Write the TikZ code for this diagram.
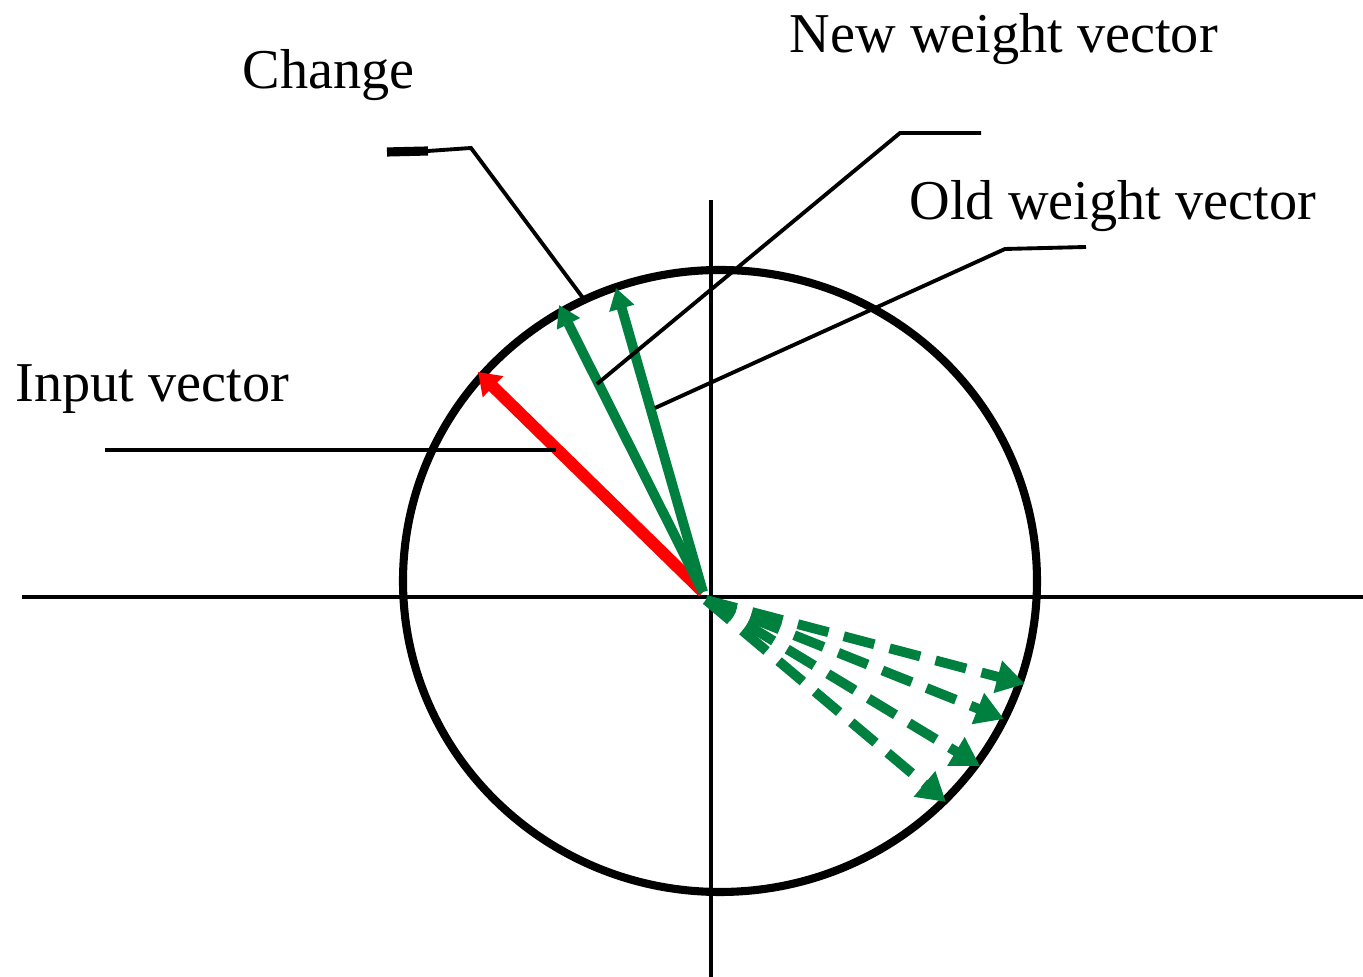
\documentclass[tikz,border=0pt]{standalone}
\usepackage{fontspec}
\setmainfont{Liberation Serif}
\usetikzlibrary{arrows.meta}
\definecolor{wgreen}{RGB}{0,128,62}
\tikzset{
  lbl/.style={inner sep=0pt, font=\fontsize{16}{19}\selectfont},
  axis/.style={line width=1.3pt},
  leader/.style={line width=1.1pt},
  invec/.style={red, line width=3.4pt, -{Triangle[length=6pt,width=8pt]}},
  wvec/.style={wgreen, line width=2.8pt, -{Triangle[length=6pt,width=7pt]}},
  wdash/.style={wgreen, line width=2.8pt, dash pattern=on 9pt off 4.5pt,
    -{Triangle[length=8pt,width=9pt]}},
}
\begin{document}
\begin{tikzpicture}[x=0.01cm,y=-0.01cm]
	\useasboundingbox (0,0) rectangle (1363,977);
	% axes and circle
	\draw[axis] (22,597) -- (1363,597);
	\draw[axis] (711,200) -- (711,977);
	\draw[line width=2.3pt] (720,581) ellipse [x radius=317, y radius=311];
	\coordinate (O) at (703,592);
	% input vector and weight vectors
	\coordinate (in) at (478,372);
	\coordinate (w1) at (559,305);
	\coordinate (w2) at (616,288);
	\draw[invec] (O) -- (in);
	\draw[wvec] (O) -- (w1);
	\draw[wvec] (O) -- (w2);
	\coordinate (O2) at (706,600);
	\coordinate (d1) at (1025,684);
	\coordinate (d2) at (1004,719);
	\coordinate (d3) at (980,766);
	\coordinate (d4) at (946,802);
	\draw[wdash] (O2) -- (d1);
	\draw[wdash] (O2) -- (d2);
	\draw[wdash] (O2) -- (d3);
	\draw[wdash] (O2) -- (d4);
	% labels
	\node[lbl, anchor=base west] (change) at (242,89) {Change};
	\node[lbl, anchor=base west] (newlbl) at (789,53) {New weight vector};
	\node[lbl, anchor=base west] (oldlbl) at (909,220) {Old weight vector};
	\node[lbl, anchor=base west] (inlbl) at (15,402) {Input vector};
	% leader lines
	\coordinate (c0) at (387,152);
	\coordinate (c1) at (428,151);
	\coordinate (c2) at (471,148);
	\coordinate (c3) at (583,298);
	\draw[line width=2.6pt] (c0) -- (c1);
	\draw[leader] (c1) -- (c2) -- (c3);
	\coordinate (n0) at (981,133);
	\coordinate (n1) at (900,133);
	\coordinate (n2) at (597,384);
	\draw[leader] (n0) -- (n1) -- (n2);
	\coordinate (o0) at (1086,247);
	\coordinate (o1) at (1005,249);
	\coordinate (o2) at (655,408);
	\draw[leader] (o0) -- (o1) -- (o2);
	\coordinate (i0) at (105,450);
	\coordinate (i1) at (556,450);
	\draw[leader] (i0) -- (i1);
\end{tikzpicture}
\end{document}
